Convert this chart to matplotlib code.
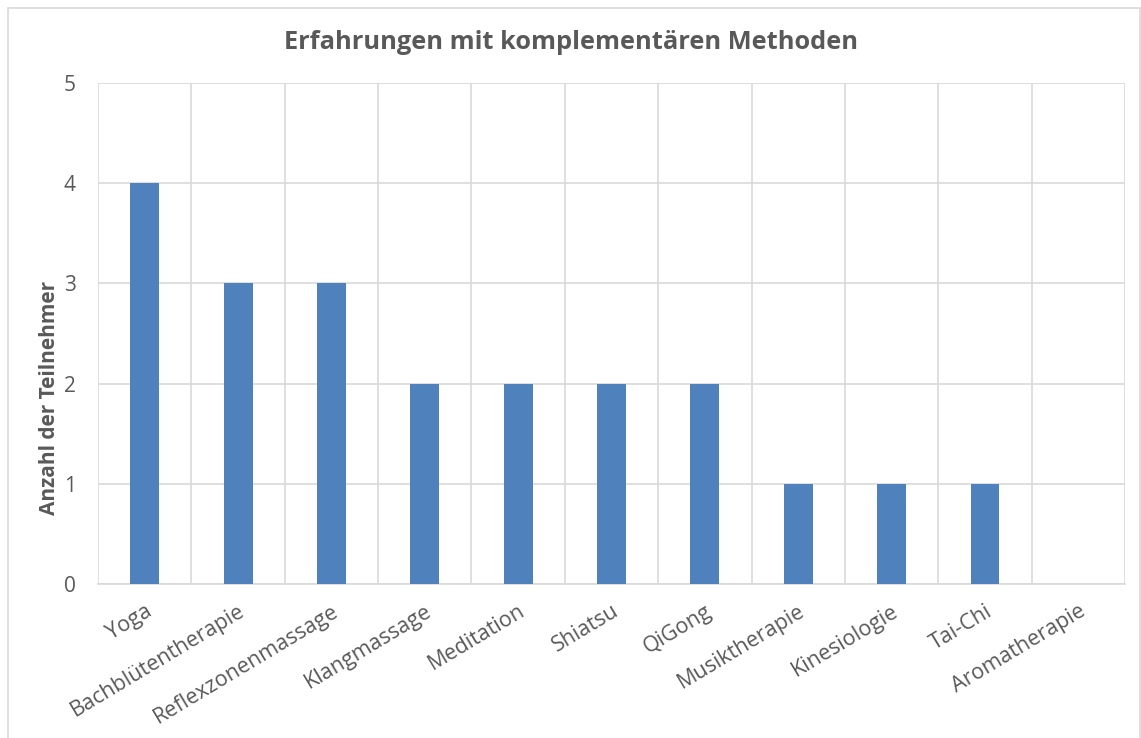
import matplotlib.pyplot as plt
from matplotlib.patches import Rectangle
import numpy as np

methoden = ["Yoga", "Bachblütentherapie", "Reflexzonenmassage", "Klangmassage",
            "Meditation", "Shiatsu", "QiGong", "Musiktherapie", "Kinesiologie",
            "Tai-Chi", "Aromatherapie"]
anzahl = [4, 3, 3, 2, 2, 2, 2, 1, 1, 1, 0]
y_ticks = [0, 1, 2, 3, 4, 5]

plt.rcParams['font.family'] = ['Open Sans', 'DejaVu Sans']
grau = "#595959"
linie = "#D9D9D9"

fig = plt.figure(figsize=(11.41, 7.38), dpi=100)
ax = fig.add_axes([0.0859, 0.2087, 0.9001, 0.6788])

x = np.arange(len(methoden))
ax.bar(x, anzahl, width=0.31, color="#4F81BD", zorder=3)

ax.set_xlim(-0.5, len(methoden) - 0.5)
ax.set_ylim(0, 5)
ax.set_yticks(y_ticks)
ax.set_yticklabels([str(t) for t in y_ticks], fontsize=15, color=grau)

# Kategorie-Trennlinien als vertikale Gitterlinien
ax.set_xticks(np.arange(len(methoden) + 1) - 0.5, minor=True)
ax.grid(True, which="minor", axis="x", color=linie, linewidth=1.2, zorder=0)
ax.grid(True, which="major", axis="y", color=linie, linewidth=1.2, zorder=0)
ax.set_xticks(x)
ax.set_xticklabels(methoden, rotation=31, ha="right", rotation_mode="anchor",
                   fontsize=15.5, color=grau)
ax.tick_params(axis="both", which="both", length=0)
ax.tick_params(axis="x", pad=12)
ax.tick_params(axis="y", pad=16)

for s in ["top", "left", "right"]:
    ax.spines[s].set_visible(False)
ax.spines["bottom"].set_color(linie)
ax.spines["bottom"].set_linewidth(1.2)

# Achsentitel sitzt im Original etwas unterhalb der Mitte
ax.set_ylabel("Anzahl der Teilnehmer", fontsize=15, fontweight="bold", color=grau,
              labelpad=3, y=0.371)
fig.text(0.5, 0.943, "Erfahrungen mit komplementären Methoden", ha="center", va="center",
         fontsize=18.3, fontweight="bold", color=grau)

# Rahmen um das Diagramm
fig.patches.append(Rectangle((8 / 1141, -0.01), 1132 / 1141, 0.999, transform=fig.transFigure,
                             fill=False, edgecolor=linie, linewidth=1.2))

fig.savefig("out.png", dpi=100, facecolor="white")
